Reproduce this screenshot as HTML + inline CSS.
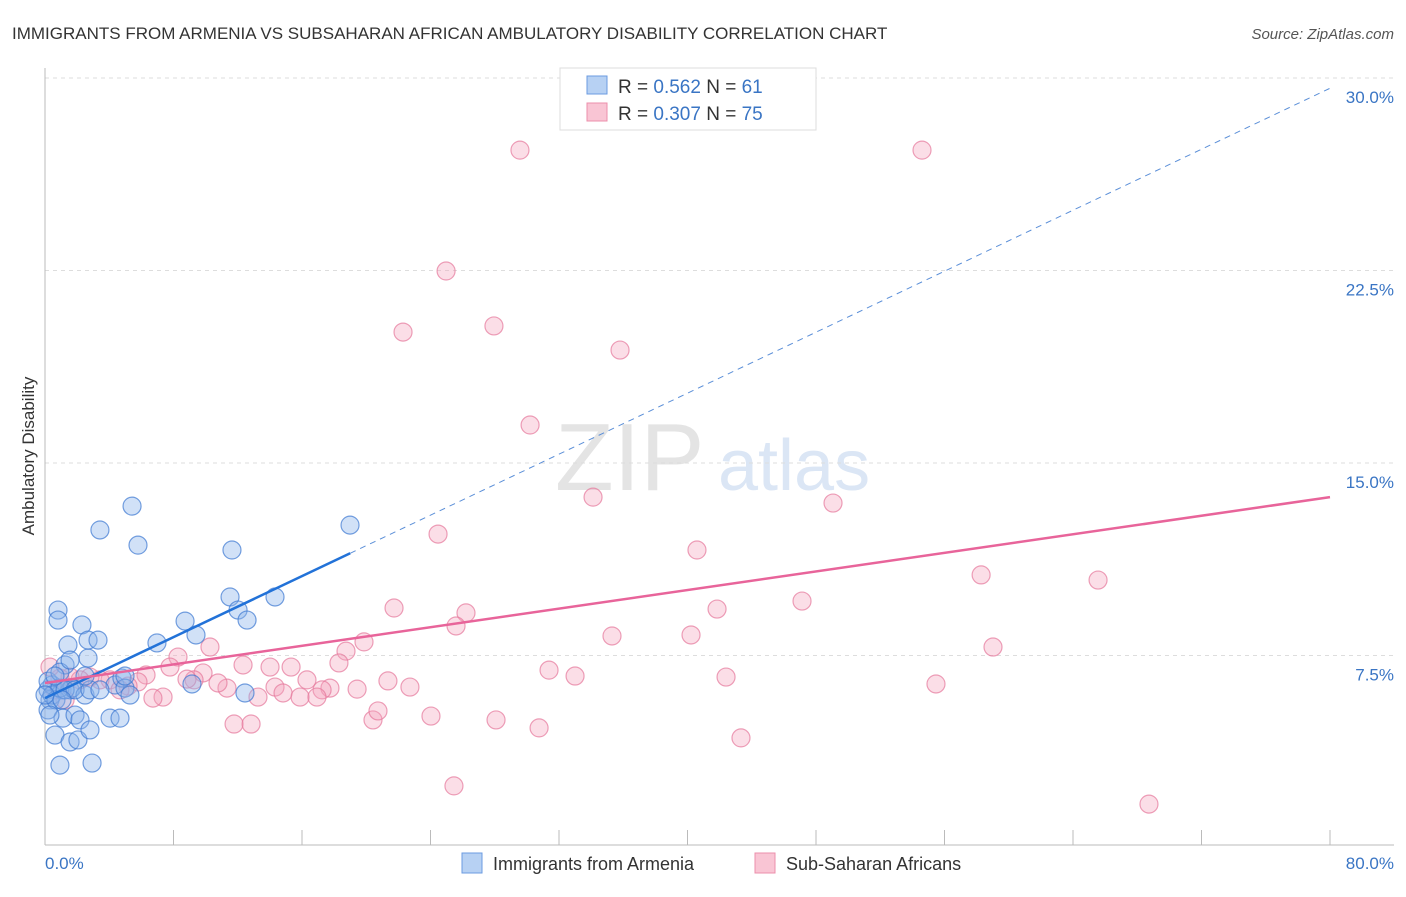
<!DOCTYPE html>
<html><head><meta charset="utf-8"><style>
body{margin:0;background:#fff;font-family:"Liberation Sans",sans-serif;}
svg text{font-family:"Liberation Sans",sans-serif;}
</style></head><body>
<svg width="1406" height="892" xmlns="http://www.w3.org/2000/svg">
<text x="12" y="39" font-size="17" fill="#333">IMMIGRANTS FROM ARMENIA VS SUBSAHARAN AFRICAN AMBULATORY DISABILITY CORRELATION CHART</text>
<text x="1394" y="39" font-size="15" fill="#555" text-anchor="end" font-style="italic">Source: ZipAtlas.com</text>
<text x="555" y="490" font-size="96" fill="#e4e4e4" font-family="Liberation Serif">ZIP</text>
<text x="718" y="490" font-size="72" fill="#dbe6f5">atlas</text>
<g id="grid"></g>
<g id="axes"></g>
<g id="pts"></g>
<g id="lines"></g>
<text transform="translate(34,456) rotate(-90)" font-size="17" fill="#333" text-anchor="middle">Ambulatory Disability</text>
<text x="45" y="869" font-size="17" fill="#3a75c4">0.0%</text>
<text x="1394" y="869" font-size="17" fill="#3a75c4" text-anchor="end">80.0%</text>
<g>
<rect x="560" y="68" width="256" height="62" fill="#fff" stroke="#ddd"/>
<rect x="587" y="76" width="20" height="18" fill="#b7d1f3" stroke="#6b9be0"/>
<rect x="587" y="103" width="20" height="18" fill="#f9c5d4" stroke="#ec8fab"/>
<text x="618" y="93" font-size="19" fill="#333">R = <tspan fill="#3a75c4">0.562</tspan>   N = <tspan fill="#3a75c4">61</tspan></text>
<text x="618" y="120" font-size="19" fill="#333">R = <tspan fill="#3a75c4">0.307</tspan>   N = <tspan fill="#3a75c4">75</tspan></text>
</g>
<g>
<rect x="462" y="853" width="20" height="20" fill="#b7d1f3" stroke="#6b9be0"/>
<text x="493" y="870" font-size="18" fill="#333">Immigrants from Armenia</text>
<rect x="755" y="853" width="20" height="20" fill="#f9c5d4" stroke="#ec8fab"/>
<text x="786" y="870" font-size="18" fill="#333">Sub-Saharan Africans</text>
</g>
</svg>
<script>
const yTicks=[7.5,15,22.5,30];
const blueX=[0.19,0.31,0.19,0.44,0.62,0.81,0.81,0.93,1.06,1.12,1.25,1.43,1.56,1.56,1.68,1.87,2.05,2.18,2.30,2.49,2.68,2.68,2.80,2.93,3.30,3.42,4.05,4.36,4.67,4.79,4.98,5.29,5.42,5.79,6.97,8.72,9.15,9.40,11.52,11.64,12.02,12.45,12.58,14.32,18.99,0.19,0.44,0.68,0.93,1.25,1.87,2.80,3.42,0.93,1.56,0.62,2.49,4.98,0,0.31,1.06];
const blueY=[6.16,5.77,5.38,6.35,4.40,9.27,8.88,3.23,6.16,5.06,7.13,7.91,4.13,6.16,6.23,5.18,4.21,4.99,8.69,5.96,7.40,8.10,4.60,3.31,8.10,12.39,5.06,6.35,5.06,6.62,6.23,5.96,13.32,11.80,7.99,8.84,6.39,8.30,9.78,11.61,9.27,6.04,8.88,9.78,12.58,6.5,5.96,5.77,6.23,6.16,6.16,6.16,6.16,6.85,7.32,6.70,6.70,6.70,5.96,5.18,5.77];
const pinkX=[29.57,54.60,24.97,22.29,27.95,35.80,30.20,34.12,49.06,24.47,40.59,58.28,65.56,21.73,26.21,41.84,47.13,25.59,35.30,40.22,19.86,59.02,18.74,18.30,8.28,10.27,7.78,12.33,14.01,15.32,31.38,33.00,42.40,55.47,21.35,22.72,16.31,19.43,17.74,17.25,14.32,14.82,15.88,16.93,13.26,11.33,10.77,9.84,9.28,8.84,7.35,6.72,6.29,5.79,5.17,4.05,3.42,2.80,2.18,1.56,0.93,0.31,0.62,11.77,12.83,20.42,20.73,24.03,28.08,30.76,43.33,25.46,68.73,4.67,1.25];
const pinkY=[27.19,27.19,22.48,20.10,20.34,19.40,16.48,13.67,13.44,12.23,11.61,10.64,10.44,9.35,9.16,9.31,9.62,8.65,8.26,8.30,8.03,7.83,7.67,7.21,7.44,7.83,7.05,7.13,7.05,7.05,6.93,6.70,6.66,6.39,6.51,6.27,6.55,6.19,6.23,6.16,6.27,6.04,5.88,5.88,5.88,6.23,6.43,6.82,6.55,6.58,5.88,5.84,6.74,6.47,6.31,6.55,6.55,6.66,6.55,6.66,6.62,7.05,6.16,4.83,4.83,4.99,5.34,5.14,4.99,4.68,4.29,2.42,1.71,6.16,5.77];
const blueFit=[5.84,0.297];
const pinkFit=[6.43,0.0905];
const NS='http://www.w3.org/2000/svg';
const X=v=>45+v/80*1285;
const Y=v=>848-v/7.5*192.5;
function mk(tag,attrs,parent){const e=document.createElementNS(NS,tag);for(const k in attrs)e.setAttribute(k,attrs[k]);document.getElementById(parent).appendChild(e);return e;}
yTicks.forEach(t=>{
 const l=mk('line',{x1:45,x2:1394,y1:Y(t),y2:Y(t),stroke:'#ddd','stroke-dasharray':'4,4'},'grid');
 
 
 const tx=mk('text',{x:1394,y:Y(t)+25,'font-size':17,fill:'#3a75c4','text-anchor':'end'},'grid');
 tx.textContent=t.toFixed(1)+'%';
 
 
});
const ax=mk('line',{x1:45,x2:45,y1:68,y2:845,stroke:'#bbb'},'axes');


const bx=mk('line',{x1:45,x2:1394,y1:845,y2:845,stroke:'#bbb'},'axes');


for(let i=0;i<=10;i++){
 const t=mk('line',{x1:X(i*8),x2:X(i*8),y1:830,y2:845,stroke:'#bbb'},'axes');
 
 
}
pinkX.forEach((v,i)=>{
 const c=mk('circle',{cx:X(v),cy:Y(pinkY[i]),r:9,fill:'rgba(244,160,185,0.35)',stroke:'rgba(230,120,155,0.7)','stroke-width':1.2},'pts');
 
 
});
blueX.forEach((v,i)=>{
 const c=mk('circle',{cx:X(v),cy:Y(blueY[i]),r:9,fill:'rgba(140,180,235,0.4)',stroke:'rgba(60,120,210,0.7)','stroke-width':1.2},'pts');
 
 
});
const b1=mk('line',{x1:X(0),y1:Y(blueFit[0]),x2:X(19),y2:Y(blueFit[0]+blueFit[1]*19),stroke:'#2272d8','stroke-width':2.5},'lines');


const b2=mk('line',{x1:X(19),y1:Y(blueFit[0]+blueFit[1]*19),x2:X(80),y2:Y(blueFit[0]+blueFit[1]*80),stroke:'#5b8fd8','stroke-width':1,'stroke-dasharray':'6,5'},'lines');


const p1=mk('line',{x1:X(0),y1:Y(pinkFit[0]),x2:X(80),y2:Y(pinkFit[0]+pinkFit[1]*80),stroke:'#e8649a','stroke-width':2.5},'lines');


</script>
</body></html>
